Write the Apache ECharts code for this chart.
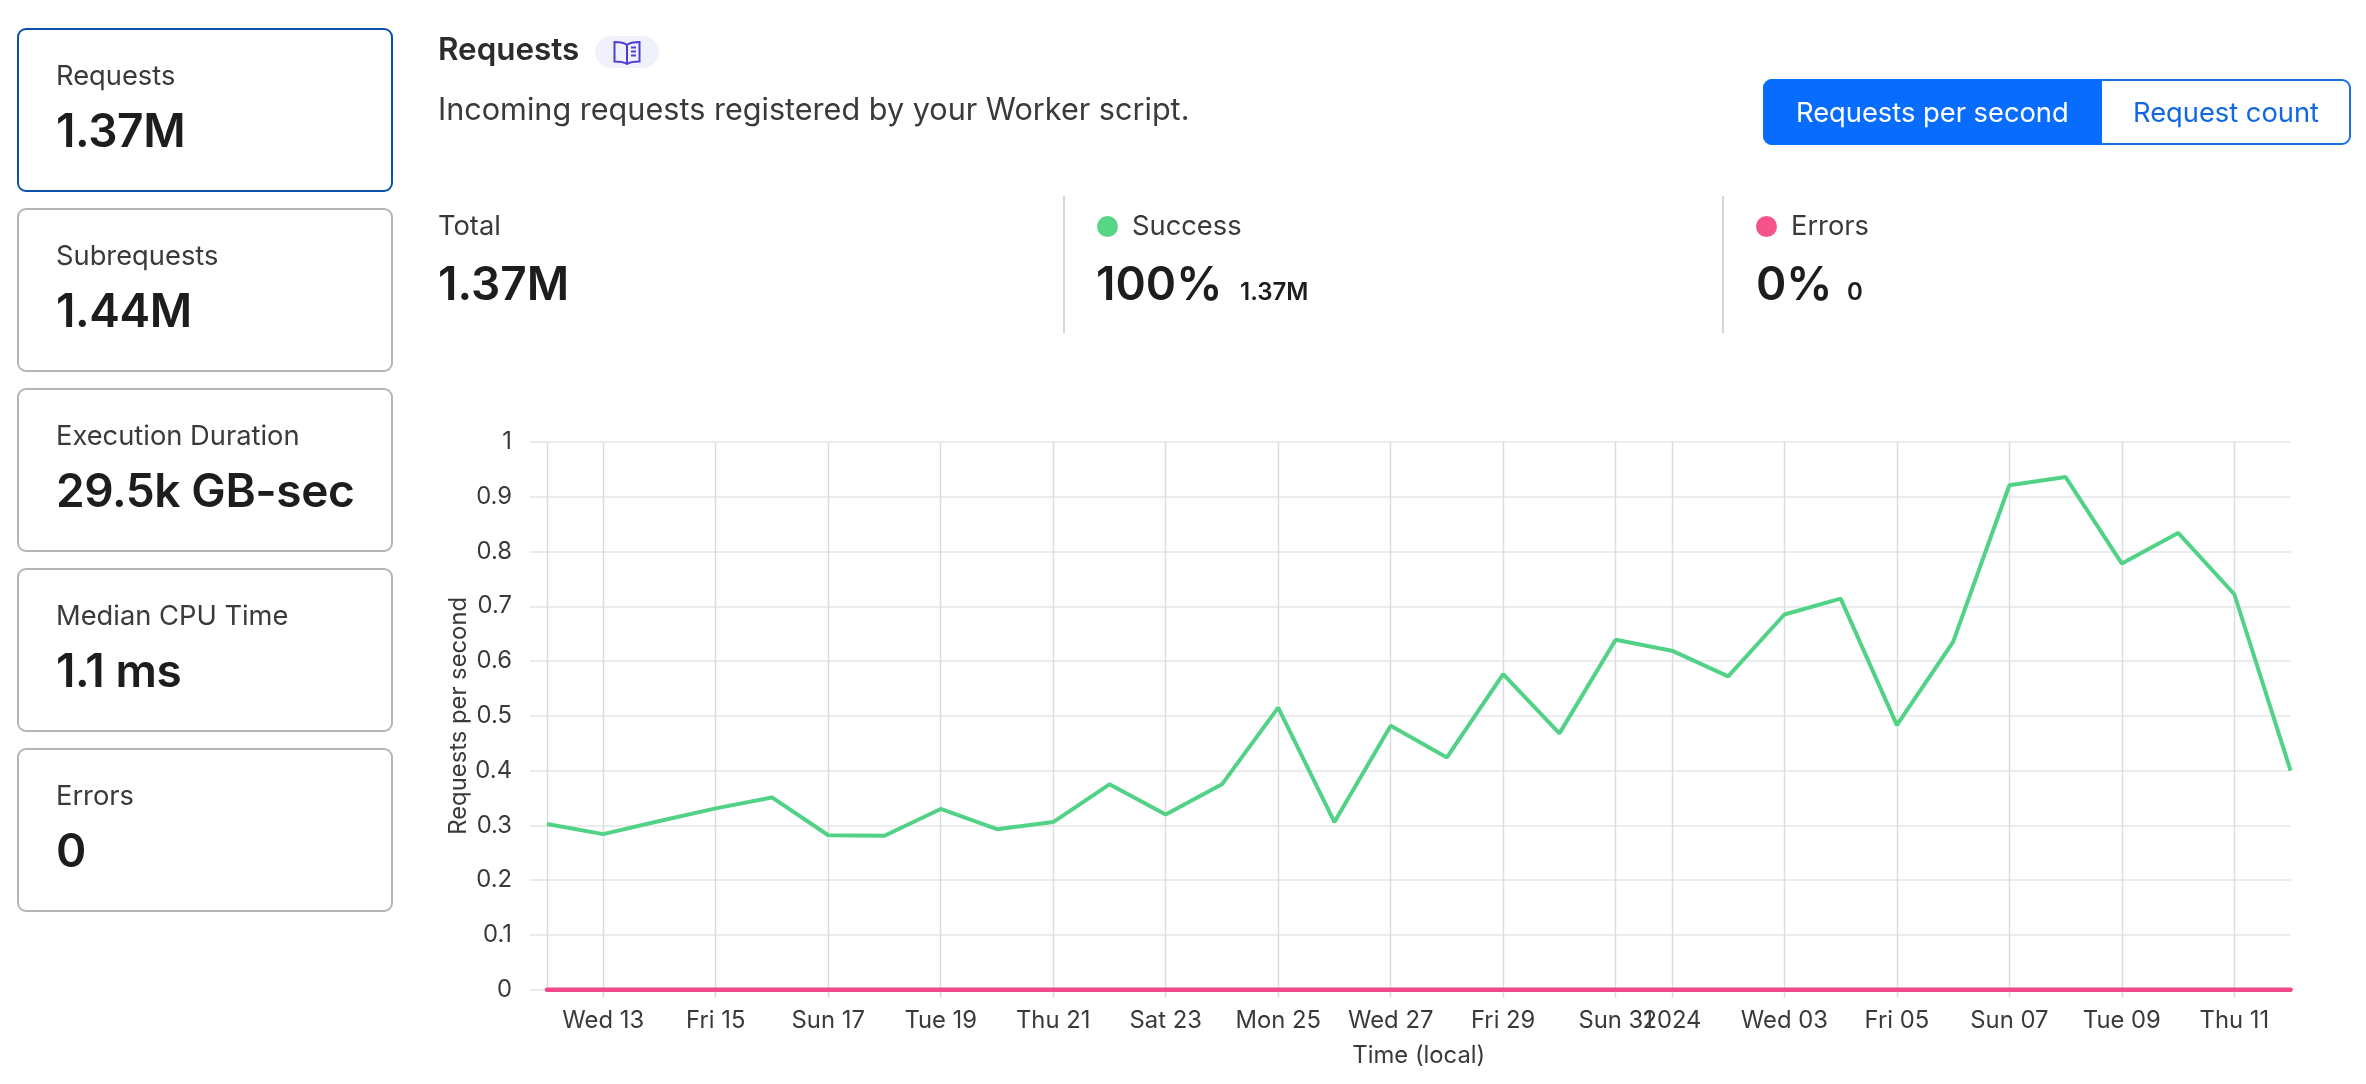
<!DOCTYPE html>
<html>
<head>
<meta charset="utf-8">
<title>Requests</title>
<script src="https://cdn.jsdelivr.net/npm/echarts@6/dist/echarts.min.js"></script>
<style>
html, body { margin: 0; padding: 0; width: 2366px; height: 1084px; background: #fff; overflow: hidden; font-family: Inter, sans-serif; }
#chart { position: absolute; left: 0; top: 0; width: 2366px; height: 1084px; }
.t { position: absolute; line-height: 0; white-space: nowrap; color: #3a3a3a; font-size: 27.3px; }
.big { font-size: 46px; font-weight: 600; color: #1d1d1d; }
.card { position: absolute; left: 17px; width: 372px; height: 160px; border: 2px solid #b5b5b5; border-radius: 9px; box-sizing: content-box; }
.card.on { border-color: #0a51ad; }
.sep { position: absolute; top: 196px; width: 2px; height: 137px; background: #d8d8d8; }
.dot { position: absolute; width: 21px; height: 21px; border-radius: 50%; top: 215px; }
</style>
</head>
<body>
<div id="chart"></div>
<div id="panel"></div>
<script>
// daily points, 12 Dec 2023 to 12 Jan 2024
var categories = ['2023-12-12','2023-12-13','2023-12-14','2023-12-15','2023-12-16','2023-12-17','2023-12-18','2023-12-19',
    '2023-12-20','2023-12-21','2023-12-22','2023-12-23','2023-12-24','2023-12-25','2023-12-26','2023-12-27',
    '2023-12-28','2023-12-29','2023-12-30','2023-12-31','2024-01-01','2024-01-02','2024-01-03','2024-01-04',
    '2024-01-05','2024-01-06','2024-01-07','2024-01-08','2024-01-09','2024-01-10','2024-01-11','2024-01-12'];
var tickLabels = ['','Wed 13','','Fri 15','','Sun 17','','Tue 19','','Thu 21','','Sat 23','','Mon 25','','Wed 27',
    '','Fri 29','','Sun 31','2024','','Wed 03','','Fri 05','','Sun 07','','Tue 09','','Thu 11',''];
var successValues = [0.3025,0.284,0.308,0.331,0.351,0.282,0.281,0.33,0.293,0.306,0.375,0.32,0.375,0.515,0.306,0.482,
    0.424,0.576,0.468,0.639,0.619,0.572,0.685,0.714,0.483,0.635,0.921,0.936,0.778,0.834,0.722,0.4];
var errorValues = [0,0,0,0,0,0,0,0,0,0,0,0,0,0,0,0,0,0,0,0,0,0,0,0,0,0,0,0,0,0,0,0];

var cardNames = ['Requests','Subrequests','Execution Duration','Median CPU Time','Errors'];
var cardValues = ['1.37M','1.44M','29.5k GB-sec','1.1 ms','0'];

function addText(str, x, y, cls, style) {
    var el = document.createElement('div');
    el.className = 't ' + (cls || '');
    el.textContent = str;
    el.style.left = x + 'px';
    el.style.top = y + 'px';
    if (style) el.style.cssText += style;
    document.getElementById('panel').appendChild(el);
    return el;
}
function addBox(cls, style) {
    var el = document.createElement('div');
    el.className = cls;
    el.style.cssText = style;
    document.getElementById('panel').appendChild(el);
    return el;
}

// left cards
for (var c = 0; c < cardNames.length; c++) {
    addBox('card' + (c == 0 ? ' on' : ''), 'top:' + (28 + c * 180) + 'px');
    addText(cardNames[c], 56, 76 + c * 180);
    addText(cardValues[c], 56, 130 + c * 180, 'big', 'letter-spacing:-0.4px');
}

// header
addText('Requests', 438, 49, '', 'font-size:31.4px;font-weight:600;color:#2c2c2c');
addBox('', 'position:absolute;left:595px;top:36px;width:64px;height:32px;border-radius:16px;background:#f1f1fb');
document.getElementById('panel').insertAdjacentHTML('beforeend',
    '<svg style="position:absolute;left:613px;top:40px" width="28" height="25" viewBox="0 0 28 25" fill="none" stroke="#4f3fd1" stroke-width="2">' +
    '<path d="M14 5C11 2.500 6 2 1.500 2V21.500C6 21.500 11 22 14 24C17 22 22 21.500 26.500 21.500V2C22 2 17 2.500 14 5V24"/>' +
    '<path d="M18 7.500H23M18 11.500H23M18 15.500H23"/></svg>');
addText('Incoming requests registered by your Worker script.', 438, 109, '', 'font-size:30.6px');

// unit switch
addBox('', 'position:absolute;left:1763px;top:79px;width:588px;height:66px;box-sizing:border-box;border:2.5px solid #1a72e2;border-radius:9px;background:#fff');
addBox('', 'position:absolute;left:1763px;top:79px;width:339px;height:66px;border-radius:9px 0 0 9px;background:#086dff');
addText('Requests per second', 1796, 113, '', 'color:#fff');
addText('Request count', 2133, 113, '', 'color:#1168e0');

// totals row
addBox('sep', 'left:1063px');
addBox('sep', 'left:1722px');
addBox('dot', 'left:1097px;top:216px;background:#57d688');
addBox('dot', 'left:1756px;top:216px;background:#f6538b');
addText('Total', 438, 226);
addText('Success', 1132, 226);
addText('Errors', 1791, 226);
addText('1.37M', 438, 283, 'big');
addText('100%', 1096, 283, 'big');
addText('0%', 1756, 283, 'big');
addText('1.37M', 1240, 292, '', 'font-size:24px;font-weight:600;color:#1d1d1d');
addText('0', 1847, 292, '', 'font-size:24px;font-weight:600;color:#1d1d1d');

var gridColor = '#e6e6e8';
var textColor = '#3a3a3c';
var chart = echarts.init(document.getElementById('chart'));
chart.setOption({
    animation: false,
    grid: { left: 547, right: 75.4, top: 442, bottom: 94.3 },
    textStyle: { fontFamily: 'Inter' },
    xAxis: {
        type: 'category',
        data: categories,
        boundaryGap: false,
        name: 'Time (local)',
        nameLocation: 'middle',
        nameGap: 54,
        nameTextStyle: { fontSize: 23.8, color: textColor, fontFamily: 'Inter' },
        axisLine: { show: false },
        axisTick: {
            length: 8,
            interval: function (i) { return tickLabels[i] !== ''; },
            lineStyle: { color: '#dcdcde', width: 1.4 }
        },
        axisLabel: {
            margin: 19,
            fontSize: 23.8,
            color: textColor,
            fontFamily: 'Inter',
            hideOverlap: false,
            interval: function (i) { return tickLabels[i] !== ''; },
            formatter: function (val, i) { return tickLabels[i]; }
        },
        splitLine: {
            show: true,
            interval: function (i) { return i == 0 || tickLabels[i] !== ''; },
            lineStyle: { color: '#dcdcde', width: 1.4 }
        }
    },
    yAxis: {
        type: 'value',
        min: 0,
        max: 1,
        interval: 0.1,
        name: 'Requests per second',
        nameLocation: 'middle',
        nameGap: 76,
        nameMoveOverlap: false,
        nameTextStyle: { fontSize: 23.8, color: textColor, fontFamily: 'Inter' },
        axisLine: { show: false },
        axisTick: { show: true, length: 17, lineStyle: { color: gridColor, width: 1.6 } },
        axisLabel: { margin: 35, fontSize: 23.8, color: textColor, fontFamily: 'Inter' },
        splitLine: { show: true, lineStyle: { color: gridColor, width: 1.6 } }
    },
    series: [
        {
            name: 'Success',
            type: 'line',
            data: successValues,
            showSymbol: false,
            clip: false,
            lineStyle: { color: '#52d287', width: 4 },
            z: 3
        },
        {
            name: 'Errors',
            type: 'line',
            data: errorValues,
            showSymbol: false,
            clip: false,
            lineStyle: { color: '#f2498a', width: 4.6, cap: 'round' },
            z: 4
        }
    ]
});
</script>
</body>
</html>
